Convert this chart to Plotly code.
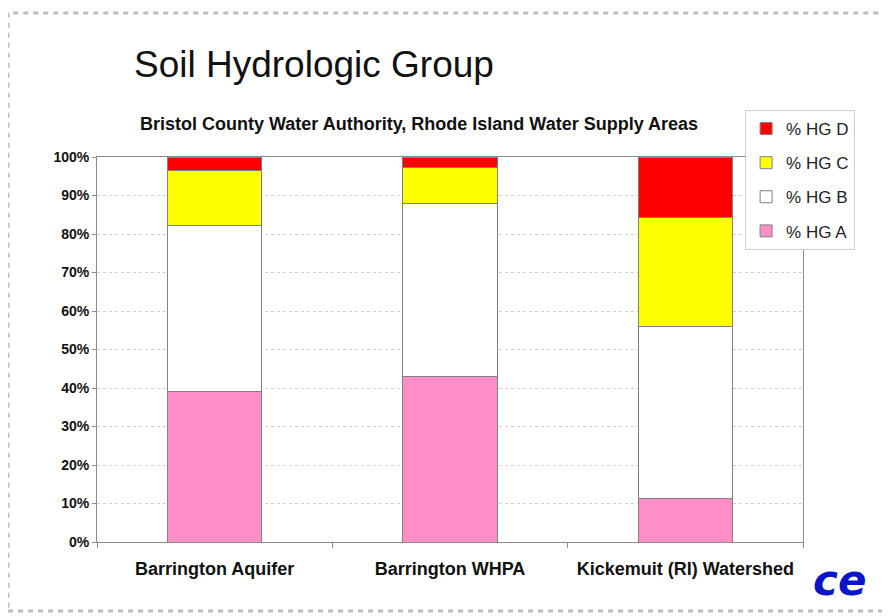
import plotly.graph_objects as go

# Data (percent of area)
areas = ["Barrington Aquifer", "Barrington WHPA", "Kickemuit (RI) Watershed"]
hg_a = [39.2, 43.1, 11.2]
hg_b = [42.9, 44.7, 44.9]
hg_c = [14.3, 9.4, 28.2]
hg_d = [3.6, 2.8, 15.7]

series = [
    ("% HG A", hg_a, "#FF8EC6"),
    ("% HG B", hg_b, "#FFFFFF"),
    ("% HG C", hg_c, "#FFFF00"),
    ("% HG D", hg_d, "#FF0000"),
]

FONT = "Arial, Liberation Sans, sans-serif"

fig = go.Figure()
for i, (name, vals, color) in enumerate(series):
    fig.add_trace(go.Bar(
        x=areas, y=vals, name=name, legendgroup=name,
        legendrank=len(series) - i,
        marker=dict(color=color, line=dict(color="#808080", width=1)),
        width=0.4,
    ))

# page body adds an 8px offset, so margins are trimmed on top/left
fig.update_layout(
    width=890, height=616,
    barmode="stack",
    paper_bgcolor="white", plot_bgcolor="white",
    margin=dict(l=89, r=95, t=149, b=82),
    font=dict(family=FONT, color="#111111"),
    showlegend=True,
    legend=dict(
        x=0.918, y=1.122, xanchor="left", yanchor="top",
        traceorder="grouped", tracegroupgap=9,
        itemwidth=30,
        bordercolor="#D0D0D0", borderwidth=1, bgcolor="white",
        font=dict(size=17, family=FONT, color="#222222"),
    ),
)

fig.update_yaxes(
    range=[0, 100], dtick=10, ticksuffix="%",
    showgrid=True, gridcolor="#D2D2D2", griddash="dot",
    showline=True, linecolor="#8C8C8C", linewidth=1, mirror=True,
    ticks="outside", ticklen=4, tickcolor="#8C8C8C",
    tickfont=dict(size=14, weight="bold", family=FONT, color="#111111"),
    zeroline=False,
)
fig.update_xaxes(
    showline=True, linecolor="#8C8C8C", linewidth=1, mirror=True,
    ticks="outside", ticklen=5, tickcolor="#8C8C8C", tickson="boundaries",
    ticklabelstandoff=10,
    tickfont=dict(size=18, weight="bold", family=FONT, color="#111111"),
)

# slide title and chart title
fig.add_annotation(
    text="Soil Hydrologic Group", xref="paper", yref="paper",
    x=0.307, y=1.239, xanchor="center", yanchor="middle", showarrow=False,
    font=dict(size=37, family=FONT, color="#111111"),
)
fig.add_annotation(
    text="<b>Bristol County Water Authority, Rhode Island Water Supply Areas</b>",
    xref="paper", yref="paper", x=0.456, y=1.086,
    xanchor="center", yanchor="middle", showarrow=False,
    font=dict(size=18, family=FONT, color="#111111"),
)
# logo stand-in
fig.add_annotation(
    text="<b><i>ce</i></b>", xref="paper", yref="paper",
    x=1.052, y=-0.1, xanchor="center", yanchor="middle", showarrow=False,
    font=dict(size=42, family="DejaVu Sans, sans-serif", color="#0A14C8"),
)

# dashed slide border
fig.add_shape(
    type="rect", xref="paper", yref="paper",
    x0=-0.126, x1=1.2, y0=-0.179, y1=1.374,
    line=dict(color="#BDBDBD", width=3, dash="5px,5px"),
    layer="below",
)

fig.write_html("out.html")
